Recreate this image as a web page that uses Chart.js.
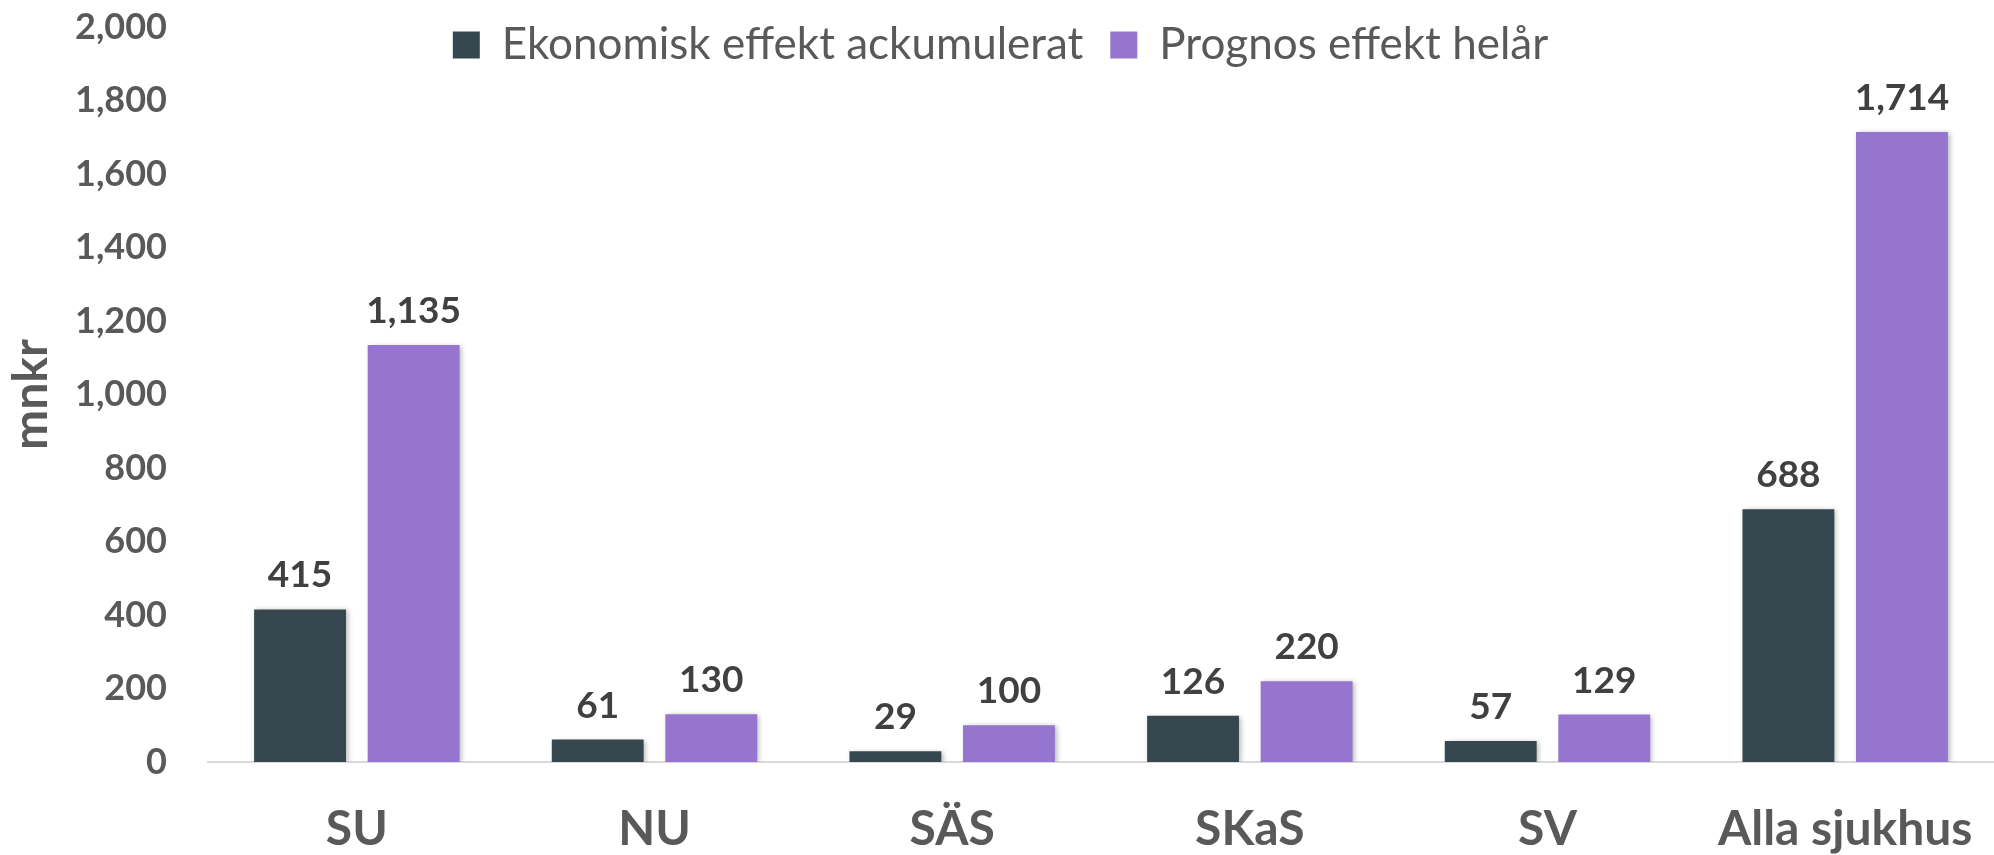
<!DOCTYPE html>
<html>
<head>
<meta charset="utf-8">
<script src="https://cdn.jsdelivr.net/npm/chart.js@4.4.1/dist/chart.umd.min.js"></script>
<style>
  html, body { margin: 0; padding: 0; background: #ffffff; overflow: hidden; }
  canvas { display: block; }
</style>
</head>
<body>
<canvas id="chart" width="1994" height="855" style="width:1994px;height:855px"></canvas>
<script>
// ---- Data ----
const categories = ['SU', 'NU', 'SÄS', 'SKaS', 'SV', 'Alla sjukhus'];
const seriesLabels = ['Ekonomisk effekt ackumulerat', 'Prognos effekt helår'];
const accumulatedValues = [415, 61, 29, 126, 57, 688];
const forecastValues = [1135, 130, 100, 220, 129, 1714];
const yAxisTitle = 'mnkr';
const yMin = 0;
const yMax = 2000;
const yStep = 200;

// ---- Styling ----
const FONT = 'Lato, "Open Sans", "DejaVu Sans", sans-serif';
const COLORS = ['#37474F', '#9575CD'];
const AXIS_TEXT = '#595959';
const LABEL_TEXT = '#404040';

const fmt = v => Number(v).toLocaleString('en-US');

const barShadow = {
  id: 'barShadow',
  beforeDatasetsDraw(chart) {
    const c = chart.ctx;
    c.save();
    c.shadowColor = 'rgba(0,0,0,0.28)';
    c.shadowBlur = 5;
    c.shadowOffsetX = 2;
    c.shadowOffsetY = 1;
  },
  afterDatasetsDraw(chart) {
    chart.ctx.restore();
  }
};

const valueLabels = {
  id: 'valueLabels',
  afterDatasetsDraw(chart) {
    const c = chart.ctx;
    c.save();
    c.font = 'bold 37px ' + FONT;
    c.fillStyle = LABEL_TEXT;
    c.textAlign = 'center';
    c.textBaseline = 'alphabetic';
    chart.data.datasets.forEach((ds, di) => {
      const meta = chart.getDatasetMeta(di);
      meta.data.forEach((el, i) => {
        c.fillText(fmt(ds.data[i]), el.x, el.y - 22);
      });
    });
    c.restore();
  }
};

// Let the legend overlap the top of the plot area (as in the original)
const legendOverlap = {
  id: 'legendOverlap',
  afterLayout(chart) {
    const lg = chart.legend;
    if (lg) {
      lg.height = 90;
      lg.bottom = lg.top + 90;
    }
  }
};

new Chart(document.getElementById('chart'), {
  type: 'bar',
  data: {
    labels: categories,
    datasets: [
      { label: seriesLabels[0], data: accumulatedValues, backgroundColor: COLORS[0], borderWidth: 0,
        categoryPercentage: 0.763, barPercentage: 0.809 },
      { label: seriesLabels[1], data: forecastValues, backgroundColor: COLORS[1], borderWidth: 0,
        categoryPercentage: 0.763, barPercentage: 0.809 }
    ]
  },
  plugins: [barShadow, valueLabels, legendOverlap],
  options: {
    responsive: false,
    animation: false,
    devicePixelRatio: 1,
    locale: 'en-US',
    layout: { padding: { left: -16, right: -23, top: -4, bottom: 0 } },
    plugins: {
      tooltip: { enabled: false },
      legend: {
        position: 'top',
        align: 'center',
        maxHeight: 31,
        labels: {
          boxWidth: 27,
          boxHeight: 27,
          padding: 27,
          color: AXIS_TEXT,
          font: { family: FONT, size: 44, weight: 'normal' }
        }
      }
    },
    scales: {
      x: {
        grid: { display: false, drawTicks: false },
        border: { display: true, color: '#D9D9D9', width: 2 },
        ticks: {
          color: AXIS_TEXT,
          font: { family: FONT, size: 48, weight: 'bold' },
          padding: 39,
          autoSkip: false,
          maxRotation: 0,
          minRotation: 0
        },
        afterFit(s) { s.height = 93; s.paddingLeft = 0; s.paddingRight = 0; }
      },
      y: {
        min: yMin,
        max: yMax,
        grid: { display: false, drawTicks: false },
        border: { display: false },
        ticks: {
          stepSize: yStep,
          color: AXIS_TEXT,
          font: { family: FONT, size: 36, weight: 'bold' },
          padding: 41
        },
        title: {
          display: true,
          text: yAxisTitle,
          color: AXIS_TEXT,
          font: { family: FONT, size: 48, weight: 'bold' },
          padding: { top: 19, bottom: 0 }
        },
        afterFit(s) { s.width = 224; s.paddingTop = 0; s.paddingBottom = 0; }
      }
    }
  }
});
</script>
</body>
</html>
